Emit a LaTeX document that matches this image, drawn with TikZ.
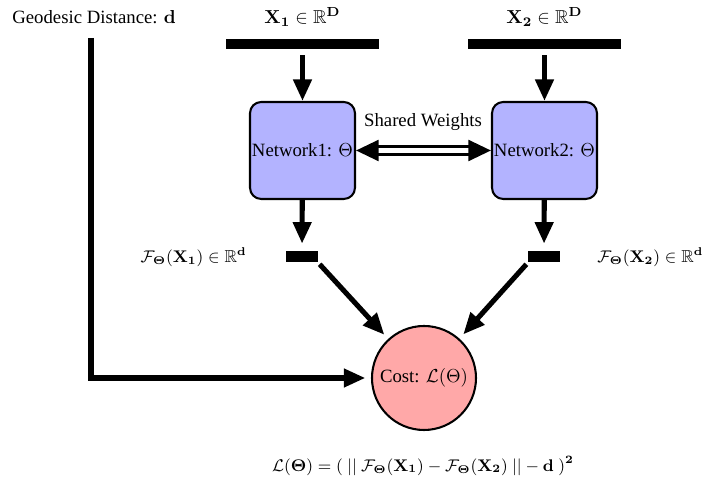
\documentclass[tikz,border=0pt]{standalone}
\usepackage{amssymb}
\usepackage[no-math]{fontspec}
\setmainfont{Liberation Serif}
\usetikzlibrary{arrows.meta}
\definecolor{netblue}{RGB}{179,179,255}
\definecolor{costred}{RGB}{255,168,168}
\begin{document}
\begin{tikzpicture}[x=0.5333pt,y=-0.5333pt,
  lbl/.style={inner sep=0pt, font=\fontsize{10}{12}\selectfont},
  mathlbl/.style={inner sep=0pt, font=\fontsize{9.25}{11}\selectfont},
  databar/.style={fill=black, draw=none, inner sep=0pt, minimum width=153*0.5333pt, minimum height=10*0.5333pt},
  smallbar/.style={fill=black, draw=none, inner sep=0pt, minimum width=32*0.5333pt, minimum height=11*0.5333pt},
  netbox/.style={draw=black, fill=netblue, line width=1.1pt, rounded corners=6pt, inner sep=1pt,
     minimum width=105*0.5333pt, minimum height=97*0.5333pt, font=\fontsize{10}{12}\selectfont},
  costnode/.style={circle, draw=black, fill=costred, line width=1.1pt, inner sep=0pt,
     minimum size=104*0.5333pt, font=\fontsize{10}{12}\selectfont},
  arr/.style={line width=2.7pt, -{Triangle[length=11.5pt,width=9.5pt]}},
  dblarr/.style={double, line width=1.7pt, double distance=2.4pt,
     {Triangle[length=12pt,width=11pt]}-{Triangle[length=12pt,width=11pt]}}
]
\useasboundingbox (0,0) rectangle (703,478);

\node[lbl, anchor=west] (geo) at (12,17) {Geodesic Distance: $\mathbf{d}$};
\node[lbl] (x1lab) at (302.5,17) {$\mathbf{X_1} \in \mathbb{R}^{\mathbf{D}}$};
\node[lbl] (x2lab) at (544.5,17) {$\mathbf{X_2} \in \mathbb{R}^{\mathbf{D}}$};

\node[databar] (bar1) at (302.5,44.5) {};
\node[databar] (bar2) at (544.5,44.5) {};

\node[netbox] (net1) at (302.5,150.5) {Network1: $\Theta$};
\node[netbox] (net2) at (544.5,150.5) {Network2: $\Theta$};

\node[lbl] (shared) at (423,122) {Shared Weights};

\node[smallbar] (sb1) at (302,257) {};
\node[smallbar] (sb2) at (544,257) {};

\node[mathlbl, anchor=east] (f1lab) at (247,257) {$\mathcal{F}_{\mathbf{\Theta}}(\mathbf{X_1}) \in \mathbb{R}^{\mathbf{d}}$};
\node[mathlbl, anchor=west] (f2lab) at (597,257) {$\mathcal{F}_{\mathbf{\Theta}}(\mathbf{X_2}) \in \mathbb{R}^{\mathbf{d}}$};

\node[costnode] (cost) at (424,378) {Cost: $\mathcal{L}(\Theta)$};

\node[mathlbl] (formula) at (423,466) {$\mathcal{L}(\mathbf{\Theta}) = (\ ||\ \mathcal{F}_{\mathbf{\Theta}}(\mathbf{X_1}) - \mathcal{F}_{\mathbf{\Theta}}(\mathbf{X_2})\ || - \mathbf{d}\ )^{\mathbf{2}}$};

\coordinate (g0) at (91,38);

% connectors
\draw[arr, shorten <=3pt] (bar1) -- (net1);
\draw[arr, shorten <=3pt] (bar2) -- (net2);
\draw[arr, shorten >=4pt] (net1) -- (sb1);
\draw[arr, shorten >=4pt] (net2) -- (sb2);
\draw[dblarr] (net1.east) -- (net2.west);
\draw[arr, shorten <=1pt, shorten >=3pt] (sb1.south east) -- (cost);
\draw[arr, shorten <=1pt, shorten >=3pt] (sb2.south west) -- (cost);
\draw[arr, shorten >=3pt] (g0) |- (cost);
\end{tikzpicture}
\end{document}
